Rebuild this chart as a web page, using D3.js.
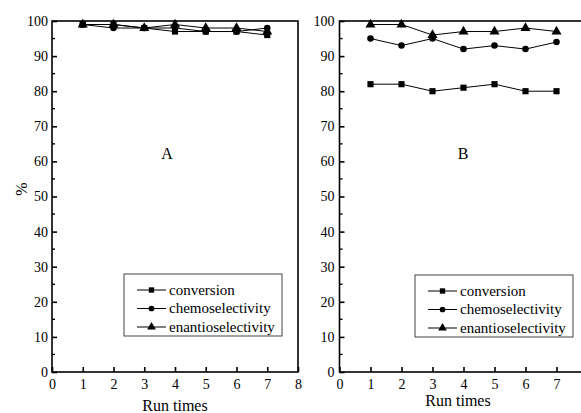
<!DOCTYPE html>
<html><head><meta charset="utf-8">
<script src="https://cdn.jsdelivr.net/npm/d3@7"></script>
<style>body{margin:0;background:#fff}svg{display:block}svg text{font-family:"Liberation Serif","Times New Roman","DejaVu Serif",serif !important;fill:#000}</style>
</head><body><svg id="c" width="581" height="413"></svg>
<script>
const runs = [1,2,3,4,5,6,7];
const seriesNames = ["conversion","chemoselectivity","enantioselectivity"];
const xTicksA = [0,1,2,3,4,5,6,7,8];
const xTicksB = [0,1,2,3,4,5,6,7];
const yTicks = [0,10,20,30,40,50,60,70,80,90,100];
const panelLabels = ["A","B"];
// Panel A
const aConversion = [99,99,98,97,97,97,96];
const aChemo      = [99,98,98,98,97,97,98];
const aEnantio    = [99,99,98,99,98,98,97];
// Panel B
const bConversion = [82,82,80,81,82,80,80];
const bChemo      = [95,93,95,92,93,92,94];
const bEnantio    = [99,99,96,97,97,98,97];

const FONT = '"Liberation Serif","Times New Roman",serif';
const svg = d3.select("#c");
const panels = [
  {label:panelLabels[0], x0:52, x1:298, ticks:xTicksA, data:[aConversion,aChemo,aEnantio], lx:124, ly:274, lab:[167,159], xt:[175,411], yp:4},
  {label:panelLabels[1], x0:339.5, x1:587.5, ticks:xTicksB, data:[bConversion,bChemo,bEnantio], lx:415, ly:275, lab:[463,159], xt:[458,406], yp:5}
];
const yTop = 21, yBot = 372;
const symbols = [d3.symbolSquare, d3.symbolCircle, d3.symbolTriangle];
const symSize = [38, 34, 44];

panels.forEach(p => {
  const x = d3.scaleLinear().domain([0,8]).range([p.x0,p.x1]);
  const y = d3.scaleLinear().domain([0,100]).range([yBot,yTop]);
  const g = svg.append("g");
  g.append("rect").attr("x",p.x0).attr("y",yTop).attr("width",p.x1-p.x0).attr("height",yBot-yTop)
    .attr("fill","none").attr("stroke","#000").attr("stroke-width",1.6);
  const xa = g.append("g").attr("transform",`translate(0,${yBot})`)
    .call(d3.axisBottom(x).tickValues(p.ticks).tickFormat(d3.format("d")).tickSizeInner(-5).tickSizeOuter(0).tickPadding(7));
  xa.attr("font-family",FONT);
  xa.select(".domain").remove();
  xa.selectAll("line").attr("stroke-width",1.6);
  xa.selectAll("text").attr("font-size",14);
  const ya = g.append("g").attr("transform",`translate(${p.x0},0)`)
    .call(d3.axisLeft(y).tickValues(yTicks).tickFormat(d3.format("d")).tickSizeInner(-5).tickSizeOuter(0).tickPadding(p.yp));
  ya.attr("font-family",FONT);
  ya.select(".domain").remove();
  ya.selectAll("line").attr("stroke-width",1.6);
  ya.selectAll("text").attr("font-size",14);
  const minors = d3.range(5,100,10);
  g.selectAll(".my").data(minors).enter().append("line")
    .attr("x1",p.x0).attr("x2",p.x0+3).attr("y1",d=>y(d)).attr("y2",d=>y(d))
    .attr("stroke","#000").attr("stroke-width",1.4);
  const line = d3.line().x((d,i)=>x(runs[i])).y(d=>y(d));
  p.data.forEach((s,k)=>{
    g.append("path").attr("d",line(s)).attr("fill","none").attr("stroke","#000").attr("stroke-width",1);
  });
  p.data.forEach((s,k)=>{
    g.selectAll(".m"+k).data(s).enter().append("path")
      .attr("d",d3.symbol().type(symbols[k]).size(symSize[k]))
      .attr("transform",(d,i)=>`translate(${x(runs[i])},${y(d)})`)
      .attr("fill","#000");
  });
  g.append("text").attr("x",p.lab[0]).attr("y",p.lab[1]).attr("text-anchor","middle").attr("font-size",16).attr("font-family",FONT).text(p.label);
  g.append("text").attr("x",p.xt[0]).attr("y",p.xt[1]).attr("text-anchor","middle").attr("font-size",16).attr("font-family",FONT).text("Run times");
  const lg = g.append("g").attr("transform",`translate(${p.lx},${p.ly})`);
  lg.append("rect").attr("width",158).attr("height",62).attr("fill","#fff").attr("stroke","#444").attr("stroke-width",1);
  seriesNames.forEach((n,k)=>{
    const yy = 16 + k*18.5;
    lg.append("line").attr("x1",13).attr("x2",42).attr("y1",yy).attr("y2",yy).attr("stroke","#000").attr("stroke-width",1);
    lg.append("path").attr("d",d3.symbol().type(symbols[k]).size(symSize[k]*0.75)).attr("transform",`translate(27.5,${yy})`).attr("fill","#000");
    lg.append("text").attr("x",45).attr("y",yy+4.5).attr("font-size",15).attr("font-family",FONT).text(n);
  });
});
svg.append("text").attr("transform","translate(27,189) rotate(-90)").attr("text-anchor","middle").attr("font-size",16).attr("font-family",FONT).text("%");
</script></body></html>
